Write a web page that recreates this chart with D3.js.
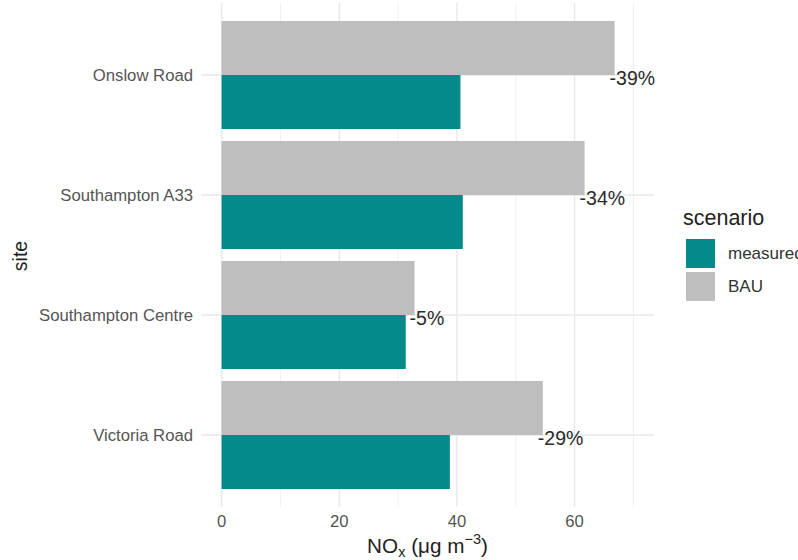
<!DOCTYPE html>
<html>
<head>
<meta charset="utf-8">
<script src="https://cdn.jsdelivr.net/npm/d3@7"></script>
<style>
  body { margin: 0; background: #fff; }
  svg { font-family: "Liberation Sans", Arial, Helvetica, sans-serif; }
</style>
</head>
<body>
<svg id="chart" width="798" height="560"></svg>
<script>
// values
var sites = ["Onslow Road", "Southampton A33", "Southampton Centre", "Victoria Road"]
var measured = [40.6, 41.0, 31.3, 38.8]
var bau = [66.8, 61.7, 32.8, 54.6]
var changeLabels = ["-39%", "-34%", "-5%", "-29%"]
var scenarios = ["measured", "BAU"]
var xTicks = [0, 20, 40, 60]
var xMinor = [10, 30, 50, 70]

var colors = { measured: "#048a8a", BAU: "#bebebe" }

var svg = d3.select("#chart")
var panel = { left: 201, right: 654, top: 3, bottom: 507 }

var x = d3.scaleLinear()
    .domain([-3.5, 73.5])
    .range([panel.left, panel.right])

var y = d3.scalePoint()
    .domain(sites)
    .range([panel.top, panel.bottom])
    .padding(0.6)

var step = y.step()
var barH = step * 0.9 / 2

// grid
var grid = svg.append("g").attr("class", "grid")
grid.selectAll("line.minor")
    .data(xMinor)
    .enter().append("line")
    .attr("x1", function (d) { return x(d) }).attr("x2", function (d) { return x(d) })
    .attr("y1", panel.top).attr("y2", panel.bottom)
    .attr("stroke", "#f0f0f0").attr("stroke-width", 1)
grid.selectAll("line.major")
    .data(xTicks)
    .enter().append("line")
    .attr("x1", function (d) { return x(d) }).attr("x2", function (d) { return x(d) })
    .attr("y1", panel.top).attr("y2", panel.bottom)
    .attr("stroke", "#e8e8e8").attr("stroke-width", 1.4)
grid.selectAll("line.hmajor")
    .data(sites)
    .enter().append("line")
    .attr("x1", panel.left).attr("x2", panel.right)
    .attr("y1", function (d) { return y(d) }).attr("y2", function (d) { return y(d) })
    .attr("stroke", "#e8e8e8").attr("stroke-width", 1.4)

// bars
var rows = sites.map(function (s, i) {
    return { site: s, measured: measured[i], BAU: bau[i], label: changeLabels[i] }
})

var bars = svg.append("g").attr("class", "bars")
bars.selectAll("rect.bau")
    .data(rows)
    .enter().append("rect")
    .attr("x", x(0))
    .attr("y", function (d) { return y(d.site) - barH })
    .attr("width", function (d) { return x(d.BAU) - x(0) })
    .attr("height", barH)
    .attr("fill", colors.BAU)
bars.selectAll("rect.meas")
    .data(rows)
    .enter().append("rect")
    .attr("x", x(0))
    .attr("y", function (d) { return y(d.site) })
    .attr("width", function (d) { return x(d.measured) - x(0) })
    .attr("height", barH)
    .attr("fill", colors.measured)

// percentage labels
svg.append("g").selectAll("text")
    .data(rows)
    .enter().append("text")
    .attr("x", function (d) { return x(d.BAU) - 5 })
    .attr("y", function (d) { return y(d.site) + 10 })
    .attr("font-size", 19.5)
    .attr("fill", "#2a2a2a")
    .text(function (d) { return d.label })

// y axis labels
svg.append("g").selectAll("text")
    .data(sites)
    .enter().append("text")
    .attr("x", 193)
    .attr("y", function (d) { return y(d) + 6 })
    .attr("text-anchor", "end")
    .attr("font-size", 16.7)
    .attr("fill", "#555")
    .text(function (d) { return d })

// x axis labels
svg.append("g").selectAll("text")
    .data(xTicks)
    .enter().append("text")
    .attr("x", function (d) { return x(d) })
    .attr("y", 527)
    .attr("text-anchor", "middle")
    .attr("font-size", 16.7)
    .attr("fill", "#555")
    .text(function (d) { return d })

// axis titles
var xt = svg.append("text")
    .attr("x", (panel.left + panel.right) / 2)
    .attr("y", 553)
    .attr("text-anchor", "middle")
    .attr("font-size", 20.7)
    .attr("fill", "#222")
xt.append("tspan").text("NO")
xt.append("tspan").attr("font-size", 14.5).attr("dy", 4).text("x")
xt.append("tspan").attr("dy", -4).text(" (\u03bcg m")
xt.append("tspan").attr("font-size", 14.5).attr("dy", -9).text("\u22123")
xt.append("tspan").attr("dy", 9).text(")")

svg.append("text")
    .attr("transform", "translate(27,256) rotate(-90)")
    .attr("text-anchor", "middle")
    .attr("font-size", 19.5)
    .attr("fill", "#222")
    .text("site")

// legend
var legend = svg.append("g").attr("transform", "translate(686,239)")
legend.append("text")
    .attr("x", -3).attr("y", -14)
    .attr("font-size", 21.5)
    .attr("fill", "#222")
    .text("scenario")
var items = legend.selectAll("g.item")
    .data(scenarios)
    .enter().append("g")
    .attr("transform", function (d, i) { return "translate(0," + (i * 33) + ")" })
items.append("rect")
    .attr("width", 29).attr("height", 29)
    .attr("fill", function (d) { return colors[d] })
items.append("text")
    .attr("x", 42).attr("y", 20)
    .attr("font-size", 17)
    .attr("fill", "#333")
    .text(function (d) { return d })
</script>
</body>
</html>
